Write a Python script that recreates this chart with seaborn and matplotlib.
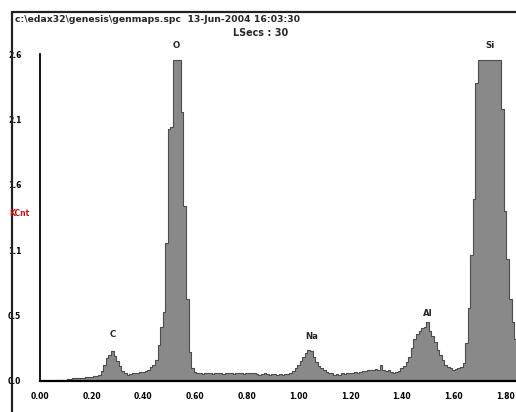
import numpy as np
import pandas as pd
import matplotlib
matplotlib.use("Agg")
import matplotlib.pyplot as plt
import seaborn as sns

# ---- data (counts in KCnt per 0.01 keV channel, 0.00 .. 1.84 keV) ----
bg0 = [0, 0, 0, 0, 0, 0, 0.005, 0.005, 0.01, 0.01,
       0.01, 0.015, 0.015, 0.02, 0.02, 0.02, 0.025, 0.025, 0.03, 0.03,
       0.035, 0.04, 0.04, 0.05]
c_peak = [0.08, 0.13, 0.18, 0.21, 0.24, 0.20, 0.16, 0.12, 0.08, 0.06]
bg1 = [0.05, 0.055, 0.06, 0.06, 0.065, 0.07, 0.075, 0.08, 0.09, 0.11, 0.13]
o_peak = [0.17, 0.29, 0.43, 0.55, 1.10, 2.00, 2.02, 2.55, 2.55, 2.55,
          2.14, 1.39, 0.65, 0.23, 0.10, 0.07]
bg2 = [0.065, 0.06, 0.055, 0.06, 0.065, 0.06, 0.055, 0.06, 0.065, 0.06,
       0.055, 0.06, 0.06, 0.065, 0.055, 0.06, 0.065, 0.06, 0.055, 0.06,
       0.06, 0.065, 0.06, 0.055, 0.05, 0.055, 0.06, 0.055, 0.05, 0.055,
       0.055, 0.05, 0.055, 0.05, 0.055, 0.055]
na_peak = [0.06, 0.08, 0.10, 0.13, 0.16, 0.19, 0.22, 0.25, 0.24, 0.19,
           0.15, 0.12, 0.10, 0.085, 0.07, 0.06]
bg3 = [0.06, 0.05, 0.055, 0.05, 0.06, 0.055, 0.06, 0.06, 0.065, 0.07,
       0.065, 0.075, 0.08, 0.08, 0.09, 0.085, 0.09, 0.095, 0.09, 0.13,
       0.09, 0.08, 0.085, 0.07, 0.065, 0.07, 0.08, 0.10]
al_peak = [0.12, 0.15, 0.19, 0.26, 0.33, 0.37, 0.40, 0.42, 0.43, 0.47,
           0.40, 0.36, 0.31, 0.25, 0.21, 0.17, 0.13, 0.11, 0.10, 0.09,
           0.095, 0.10, 0.11]
si_peak = [0.14, 0.30, 0.58, 1.00, 1.45, 2.37, 2.55, 2.55, 2.55, 2.55,
           2.55, 2.55, 2.55, 2.55, 2.55, 2.16, 1.35, 0.97, 0.65, 0.47, 0.33]

channel_width = 0.01
counts = bg0 + c_peak + bg1 + o_peak + bg2 + na_peak + bg3 + al_peak + si_peak
energy = np.round(np.arange(len(counts)) * channel_width, 2)

peak_names = ["C", "O", "Na", "Al", "Si"]
peak_x = [0.282, 0.527, 1.052, 1.501, 1.741]
peak_y = [0.33, 2.63, 0.32, 0.50, 2.63]

x_ticks = [0.0, 0.2, 0.4, 0.6, 0.8, 1.0, 1.2, 1.4, 1.6, 1.8]
x_ticklabels = ["0.00", "0.20", "0.40", "0.60", "0.80", "1.00", "1.20", "1.40", "1.60", "1.80"]
y_ticks = [0.0, 0.52, 1.04, 1.56, 2.08, 2.6]
y_ticklabels = ["0.0", "0.5", "1.1", "1.6", "2.1", "2.6"]

header = "c:\\edax32\\genesis\\genmaps.spc  13-Jun-2004 16:03:30"
subheader = "LSecs : 30"

df = pd.DataFrame({"energy": energy, "counts": counts})

# ---- plot ----
sns.set_style("white")
plt.rcParams["font.family"] = ["DejaVu Sans"]

W, H = 516, 412
fig = plt.figure(figsize=(W / 100, H / 100), dpi=100)
ax = fig.add_axes([40 / W, 31 / H, (W - 40) / W, 327 / H])

sns.histplot(data=df, x="energy", weights="counts", binwidth=channel_width,
             binrange=(-channel_width / 2, energy[-1] + channel_width / 2),
             element="step", fill=True, color="#898989", edgecolor="#4d4d4d",
             linewidth=0.8, alpha=1.0, ax=ax)

ax.set_xlim(0, 1.842)
ax.set_ylim(0, 2.6)
ax.set_xlabel("")
ax.set_ylabel("")
ax.set_xticks(x_ticks)
ax.set_xticklabels(x_ticklabels, fontsize=5.5, fontweight="bold")
ax.set_yticks(y_ticks)
ax.set_yticklabels(y_ticklabels, fontsize=5.5, fontweight="bold")
ax.tick_params(axis="x", direction="out", length=3, width=1, pad=5, colors="black")
ax.tick_params(axis="y", direction="out", length=3, width=1, pad=20, colors="black")
for lab in ax.get_yticklabels():
    lab.set_horizontalalignment("left")

for s in ["top", "right"]:
    ax.spines[s].set_visible(False)
ax.spines["left"].set_linewidth(1.3)
ax.spines["bottom"].set_linewidth(1.6)
ax.spines["left"].set_color("black")
ax.spines["bottom"].set_color("black")

for name, px, py in zip(peak_names, peak_x, peak_y):
    ax.text(px, py, name, ha="center", va="bottom", fontsize=6.2,
            fontweight="bold", clip_on=False)

# outer frame
fig.add_artist(plt.Line2D([12 / W, 12 / W], [0, 1 - 12 / H], color="#222222",
                          linewidth=1.6, transform=fig.transFigure))
fig.add_artist(plt.Line2D([12 / W, 1], [1 - 12 / H, 1 - 12 / H], color="#222222",
                          linewidth=1.6, transform=fig.transFigure))

fig.text(15 / W, 1 - 20 / H, header, fontsize=6.7, fontweight="bold",
         ha="left", va="center")
fig.text(261 / W, 1 - 33 / H, subheader, fontsize=6.9, fontweight="bold",
         ha="center", va="center")
fig.text(9 / W, 1 - 213 / H, "KCnt", fontsize=5.5, fontweight="bold",
         color="#cc1111", ha="left", va="center")

fig.savefig("out.png", dpi=100)
